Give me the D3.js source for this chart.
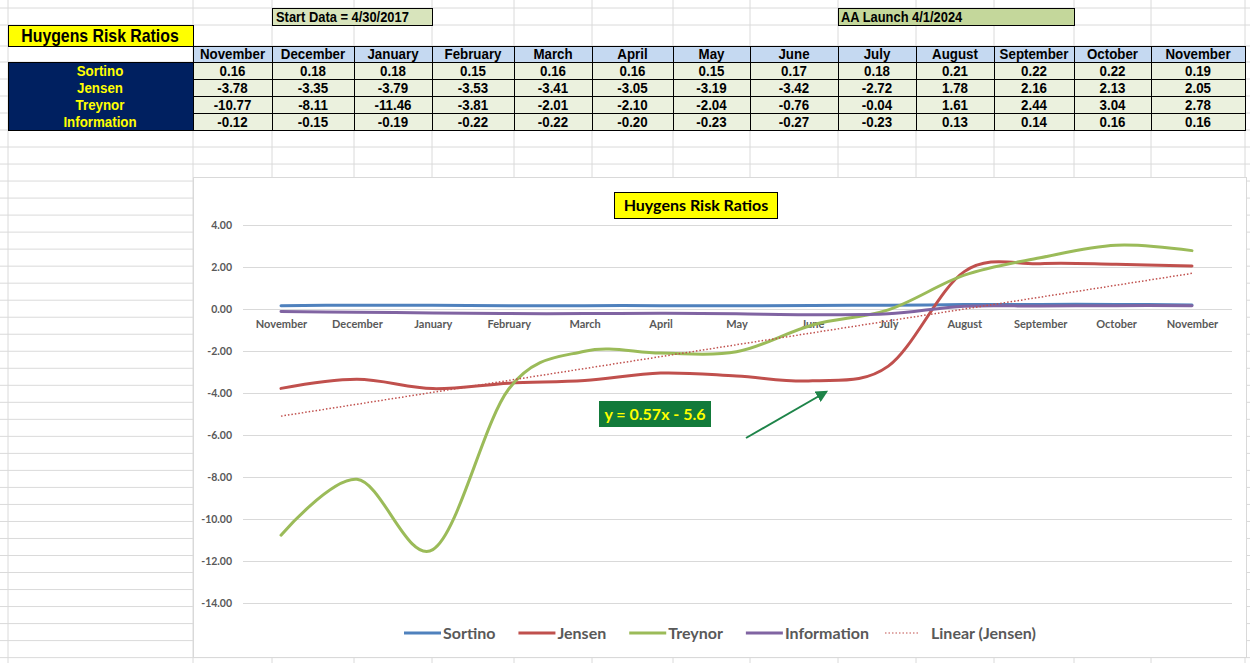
<!DOCTYPE html>
<html>
<head>
<meta charset="utf-8">
<script src="https://cdn.jsdelivr.net/npm/d3@7"></script>
<style>
  body { margin: 0; background: #fff; overflow: hidden; }
  .cell { font-family: "Liberation Sans", Arial, sans-serif; font-weight: bold; }
  .chartText { font-family: Lato, Calibri, "Noto Sans", sans-serif; font-weight: bold; }
</style>
</head>
<body>
<script>

// ---- data ----
var months = ["November", "December", "January", "February", "March", "April", "May",
              "June", "July", "August", "September", "October", "November"];
var seriesNames = ["Sortino", "Jensen", "Treynor", "Information"];
var sortino     = [0.16, 0.18, 0.18, 0.15, 0.16, 0.16, 0.15, 0.17, 0.18, 0.21, 0.22, 0.22, 0.19];
var jensen      = [-3.78, -3.35, -3.79, -3.53, -3.41, -3.05, -3.19, -3.42, -2.72, 1.78, 2.16, 2.13, 2.05];
var treynor     = [-10.77, -8.11, -11.46, -3.81, -2.01, -2.10, -2.04, -0.76, -0.04, 1.61, 2.44, 3.04, 2.78];
var information = [-0.12, -0.15, -0.19, -0.22, -0.22, -0.20, -0.23, -0.27, -0.23, 0.13, 0.14, 0.16, 0.16];
var yTicks = [-14, -12, -10, -8, -6, -4, -2, 0, 2, 4];
var sheetTitle = "Huygens Risk Ratios";
var startLabel = "Start Data = 4/30/2017";
var launchLabel = "AA Launch 4/1/2024";
var trendName = "Linear (Jensen)";
var trendLabel = "y = 0.57x - 5.6";

var seriesValues = [sortino, jensen, treynor, information];
var seriesColors = ["#4f81bd", "#c0504d", "#9bbb59", "#8064a2"];

var W = 1250, H = 663;

var svg = d3.select("body").append("svg")
    .attr("width", W)
    .attr("height", H);

// ---- excel grid ----
var colX = [8, 193, 272, 354, 432, 514, 592, 673, 750, 838, 916, 994, 1074, 1151, 1245];
var rowY = [8, 25, 46, 62, 79, 96, 113, 130];
for (var r = 1; r < 32; r++) rowY.push(130 + r * 17.02);

svg.append("g").selectAll("line.v")
    .data(colX).enter().append("line")
    .attr("x1", d => d).attr("x2", d => d)
    .attr("y1", 0).attr("y2", H)
    .attr("stroke", "#dadada");
svg.append("g").selectAll("line.h")
    .data(rowY).enter().append("line")
    .attr("x1", 0).attr("x2", W)
    .attr("y1", d => d).attr("y2", d => d)
    .attr("stroke", "#dadada");

// boxes in the top rows
function box(x0, x1, y0, y1, fill) {
  svg.append("rect")
      .attr("x", x0 + 0.5).attr("y", y0 + 0.5)
      .attr("width", x1 - x0).attr("height", y1 - y0)
      .attr("fill", fill).attr("stroke", "#000").attr("stroke-width", 1);
}
// narrow-looking cell text (Arial Narrow is not around, so squeeze Liberation Sans)
function cellText(tx, ty, str, anchor, size, fill) {
  return svg.append("text").attr("class", "cell")
      .attr("transform", "translate(" + tx + "," + ty + ") scale(0.86,1)")
      .attr("text-anchor", anchor)
      .attr("font-size", size)
      .attr("fill", fill || "#000")
      .text(str);
}

box(272, 432, 8, 25, "#d8e4bc");
cellText(276, 21.5, startLabel, "start", 15);
box(838, 1074, 8, 25, "#c4d79b");
cellText(841, 21.5, launchLabel, "start", 15);

box(8, 193, 25, 46, "#ffff00");
svg.append("text").attr("class", "cell")
    .attr("transform", "translate(100,41.5) scale(0.88,1)")
    .attr("text-anchor", "middle")
    .attr("font-size", 18)
    .text(sheetTitle);

// ---- the table ----
svg.append("rect")
    .attr("x", 8).attr("y", 62)
    .attr("width", 185).attr("height", 68)
    .attr("fill", "#002060");
seriesNames.forEach(function(name, i) {
  cellText(100, 75.5 + i * 17, name, "middle", 15.5, "#ffff00");
});

months.forEach(function(m, j) {
  var x0 = colX[j + 1], x1 = colX[j + 2], cx = (x0 + x1) / 2;
  box(x0, x1, 46, 62, "#c5d9f1");
  cellText(cx, 59, m, "middle", 15.5);
  seriesValues.forEach(function(vals, i) {
    box(x0, x1, 62 + i * 17, 79 + i * 17, "#ebf1de");
    cellText(cx, 75.5 + i * 17, vals[j].toFixed(2), "middle", 15.5);
  });
});
svg.append("rect")
    .attr("x", 8.5).attr("y", 62.5)
    .attr("width", 1237).attr("height", 68)
    .attr("fill", "none").attr("stroke", "#000");

// ---- the chart ----
var chart = {left: 193, top: 177, right: 1246, bottom: 657};
svg.append("rect")
    .attr("x", chart.left + 0.5).attr("y", chart.top + 0.5)
    .attr("width", chart.right - chart.left).attr("height", chart.bottom - chart.top)
    .attr("fill", "#fff").attr("stroke", "#d9d9d9");

var plot = {left: 243, right: 1232};

var x = d3.scalePoint()
    .domain(d3.range(months.length))
    .range([281, 1192]);
var y = d3.scaleLinear()
    .domain([-14, 4])
    .range([603, 225]);

// y axis + gridlines
var yAxis = svg.append("g")
    .attr("transform", "translate(" + plot.left + ",0)")
    .call(d3.axisLeft(y)
        .tickValues(yTicks)
        .tickSizeInner(-(plot.right - plot.left))
        .tickSizeOuter(0)
        .tickPadding(11)
        .tickFormat(d => d.toFixed(2)));
yAxis.select(".domain").remove();
yAxis.selectAll(".tick line").attr("stroke", "#d9d9d9");
yAxis.selectAll(".tick text")
    .attr("fill", "#595959")
    .attr("font-size", 10.5)
    .attr("font-family", "Lato, Calibri, sans-serif")
    .attr("font-weight", "bold");

// category labels beside the zero line
var xAxis = svg.append("g")
    .attr("transform", "translate(0," + y(0) + ")")
    .call(d3.axisBottom(x)
        .tickSize(0)
        .tickPadding(11)
        .tickFormat(i => months[i]));
xAxis.select(".domain").remove();
xAxis.selectAll(".tick text")
    .attr("fill", "#595959")
    .attr("font-size", 11)
    .attr("font-family", "Lato, Calibri, sans-serif")
    .attr("font-weight", "bold");

// smoothed lines like Excel's
var line = d3.line()
    .x((d, i) => x(i))
    .y(d => y(d))
    .curve(d3.curveCardinal.tension(0));

// linear trend of Jensen (x = 1..13)
var xs = d3.range(1, jensen.length + 1);
var mx = d3.mean(xs), my = d3.mean(jensen);
var slope = d3.sum(xs, (v, i) => (v - mx) * (jensen[i] - my)) / d3.sum(xs, v => (v - mx) * (v - mx));
var intercept = my - slope * mx;
var trend = [0, jensen.length - 1].map(i => ({i: i, v: intercept + slope * (i + 1)}));

// draw order: Sortino, Jensen, Treynor, Information
seriesValues.forEach(function(vals, k) {
  svg.append("path")
      .datum(vals)
      .attr("fill", "none")
      .attr("stroke", seriesColors[k])
      .attr("stroke-width", 3)
      .attr("stroke-linecap", "round")
      .attr("d", line);
});

svg.append("path")
    .datum(trend)
    .attr("fill", "none")
    .attr("stroke", "#c0504d")
    .attr("stroke-width", 1.5)
    .attr("stroke-dasharray", "1.5,2")
    .attr("d", d3.line().x(d => x(d.i)).y(d => y(d.v)));

// chart title
svg.append("rect")
    .attr("x", 614.5).attr("y", 192.5)
    .attr("width", 163).attr("height", 26)
    .attr("fill", "#ffff00").attr("stroke", "#000");
svg.append("text")
    .attr("class", "chartText")
    .attr("x", 696).attr("y", 211)
    .attr("text-anchor", "middle")
    .attr("font-size", 16)
    .text(sheetTitle);

// equation label and arrow
svg.append("rect")
    .attr("x", 599).attr("y", 401)
    .attr("width", 112).attr("height", 26)
    .attr("fill", "#127a3a");
svg.append("text")
    .attr("class", "chartText")
    .attr("x", 655).attr("y", 420)
    .attr("text-anchor", "middle")
    .attr("font-size", 16)
    .attr("fill", "#ffff00")
    .text(trendLabel);

svg.append("defs").append("marker")
    .attr("id", "arrow")
    .attr("viewBox", "0 0 10 10")
    .attr("refX", 8).attr("refY", 5)
    .attr("markerWidth", 6).attr("markerHeight", 6)
    .attr("orient", "auto")
  .append("path")
    .attr("d", "M0,0 L10,5 L0,10 z")
    .attr("fill", "#1e8449");
svg.append("line")
    .attr("x1", 746).attr("y1", 438)
    .attr("x2", 826).attr("y2", 392)
    .attr("stroke", "#1e8449")
    .attr("stroke-width", 2)
    .attr("marker-end", "url(#arrow)");

// legend
var legendItems = seriesNames.concat([trendName]);
var lx = 404, ly = 633;
legendItems.forEach(function(name, k) {
  var isTrend = k === 4;
  var g = svg.append("g");
  g.append("line")
      .attr("x1", isTrend ? lx - 7 : lx).attr("x2", isTrend ? lx + 26 : lx + 37)
      .attr("y1", ly).attr("y2", ly)
      .attr("stroke", isTrend ? "#c0504d" : seriesColors[k])
      .attr("stroke-width", isTrend ? 1.2 : 3)
      .attr("stroke-dasharray", isTrend ? "1.5,2" : null);
  var tx = lx + (isTrend ? 39 : 39);
  var t = g.append("text")
      .attr("class", "chartText")
      .attr("x", tx).attr("y", ly + 5.5)
      .attr("font-size", 16)
      .attr("fill", "#595959")
      .text(name);
  lx = tx + t.node().getComputedTextLength() + 23;
});

</script>
</body>
</html>
